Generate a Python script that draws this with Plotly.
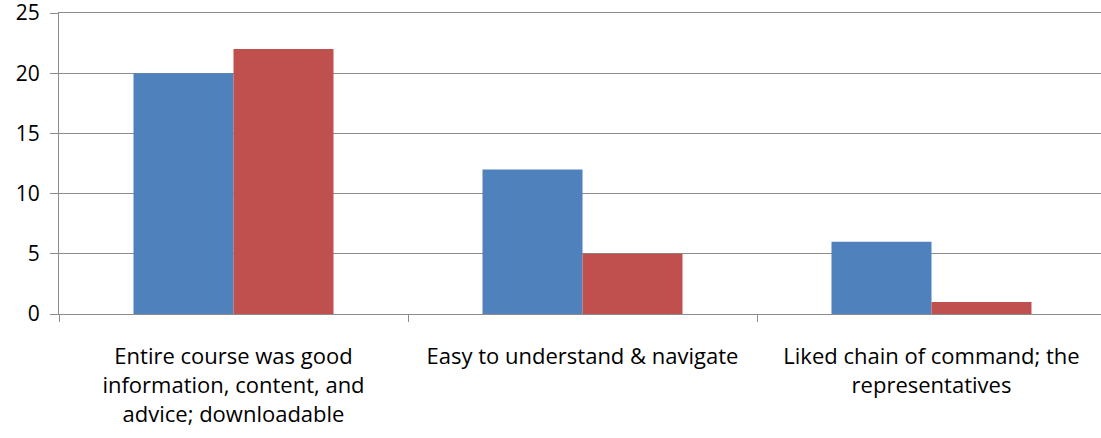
import plotly.graph_objects as go

categories = [
    "Entire course was good<br>information, content, and<br>advice; downloadable",
    "Easy to understand & navigate",
    "Liked chain of command; the<br>representatives",
]
series_blue = [20, 12, 6]
series_red = [22, 5, 1]
y_range = [0, 25]
y_step = 5

fig = go.Figure()
fig.add_trace(go.Bar(x=categories, y=series_blue, marker_color="#4F81BD", marker_line_width=0, name="A"))
fig.add_trace(go.Bar(x=categories, y=series_red, marker_color="#C0504D", marker_line_width=0, name="B"))

fig.update_layout(
    width=1106, height=438,
    margin=dict(l=59, r=0, t=13, b=124, autoexpand=False),
    paper_bgcolor="white", plot_bgcolor="white",
    barmode="group", bargap=0.427, bargroupgap=0,
    showlegend=False,
    font=dict(family="Open Sans, sans-serif", size=22, color="black"),
)
fig.update_yaxes(
    range=y_range, tickmode="linear", tick0=0, dtick=y_step,
    showgrid=True, gridcolor="#8C8C8C", gridwidth=1,
    showline=True, linecolor="#8C8C8C", linewidth=1,
    ticks="outside", ticklen=8, tickcolor="#8C8C8C",
    tickfont=dict(size=21), ticklabelstandoff=6, zeroline=False, automargin=False,
    ticklabeloverflow="allow",
)
fig.update_xaxes(
    showline=True, linecolor="#8C8C8C", linewidth=1, mirror=True,
    ticks="outside", ticklen=7, tickcolor="#8C8C8C", tickson="boundaries",
    showgrid=False, tickfont=dict(size=22), ticklabelstandoff=23, tickangle=0,
    automargin=False,
)

fig.write_html(
    "out.html",
    config={"displayModeBar": False},
    post_script="document.body.style.margin='0';document.body.style.overflow='hidden';",
)
